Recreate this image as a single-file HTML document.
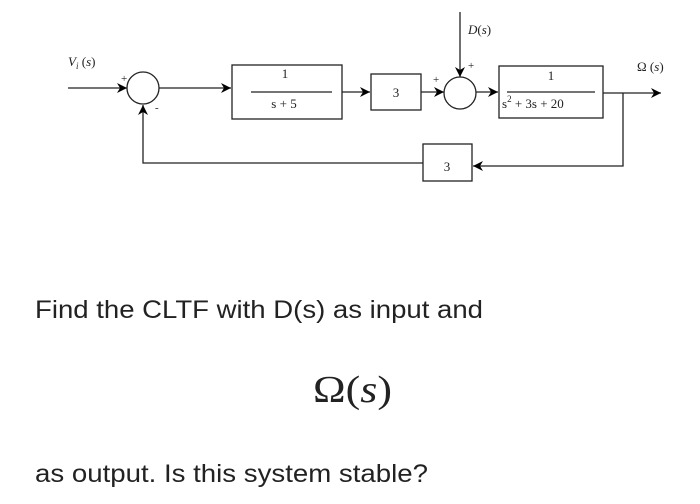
<!DOCTYPE html>
<html><head><meta charset="utf-8"><style>
html,body{margin:0;padding:0;background:#fff;}
svg{display:block;}
</style></head><body>
<svg width="700" height="504" viewBox="0 0 700 504" xmlns="http://www.w3.org/2000/svg">
<defs>
<marker id="a" viewBox="0 0 10 10" refX="10" refY="5" markerWidth="12" markerHeight="10" markerUnits="userSpaceOnUse" orient="auto">
<path d="M0,0 L10,5 L0,10 L3,5 z" fill="#000"/>
</marker>
</defs>
<g stroke="#222" stroke-width="1.3" fill="none">
<!-- input -->
<line x1="68" y1="88" x2="127" y2="88" marker-end="url(#a)"/>
<circle cx="143" cy="88" r="16"/>
<line x1="159" y1="88" x2="231" y2="88" marker-end="url(#a)"/>
<rect x="232" y="65" width="110" height="54"/>
<line x1="251" y1="92" x2="332" y2="92"/>
<line x1="342" y1="92" x2="370" y2="92" marker-end="url(#a)"/>
<rect x="371" y="74" width="50" height="36"/>
<line x1="421" y1="92" x2="444" y2="92" marker-end="url(#a)"/>
<circle cx="460" cy="93" r="16"/>
<line x1="460" y1="12" x2="460" y2="77" marker-end="url(#a)"/>
<line x1="476" y1="92" x2="498" y2="92" marker-end="url(#a)"/>
<rect x="499" y="66" width="104" height="52"/>
<line x1="507" y1="92" x2="595" y2="92"/>
<line x1="603" y1="93" x2="661" y2="93" marker-end="url(#a)"/>
<polyline points="623,93 623,166 473,166" marker-end="url(#a)"/>
<rect x="423" y="144" width="49" height="37"/>
<polyline points="423,163 143,163 143,105" marker-end="url(#a)"/>
</g>
<g font-family="Liberation Serif, serif" fill="#222">
<text x="68" y="66" font-size="13" font-style="italic">V<tspan font-size="9" dy="3">i</tspan><tspan dy="-3" font-style="normal"> (</tspan>s<tspan font-style="normal">)</tspan></text>
<text x="121" y="82" font-size="11">+</text>
<text x="155" y="111" font-size="11">-</text>
<text x="285" y="78" font-size="13" text-anchor="middle">1</text>
<text x="284" y="108" font-size="13" text-anchor="middle">s + 5</text>
<text x="396" y="97" font-size="13" text-anchor="middle">3</text>
<text x="433" y="83" font-size="11">+</text>
<text x="468" y="69" font-size="11">+</text>
<text x="468" y="34" font-size="13" font-style="italic">D<tspan font-style="normal">(</tspan>s<tspan font-style="normal">)</tspan></text>
<text x="551" y="80" font-size="13" text-anchor="middle">1</text>
<text x="502" y="108" font-size="13">s<tspan font-size="9" dy="-6">2</tspan><tspan dy="6"> + 3s + 20</tspan></text>
<text x="447" y="171" font-size="13" text-anchor="middle">3</text>
<text x="637" y="71" font-size="13">Ω (<tspan font-style="italic">s</tspan>)</text>
</g>
<g font-family="Liberation Sans, sans-serif" fill="#222" font-size="25">
<text x="35" y="318" textLength="448" lengthAdjust="spacingAndGlyphs">Find the CLTF with D(s) as input and</text>
<text x="35" y="482" textLength="393" lengthAdjust="spacingAndGlyphs">as output. Is this system stable?</text>
</g>
<text x="313" y="402" font-family="Liberation Serif, serif" font-size="38" fill="#222" textLength="79" lengthAdjust="spacingAndGlyphs">Ω(<tspan font-style="italic">s</tspan>)</text>
</svg>
</body></html>
